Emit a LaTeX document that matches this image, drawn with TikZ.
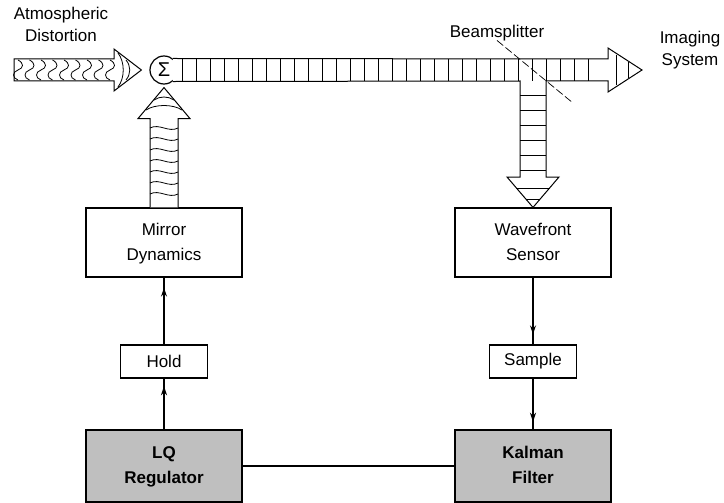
\documentclass[tikz,border=0pt]{standalone}
\usepackage{fontspec}
\setmainfont{Liberation Sans}
\usetikzlibrary{arrows.meta,calc,decorations.markings}
\tikzset{
	->-/.style={decoration={
			markings,
			mark=at position #1 with {\arrow{Stealth[length=9pt,width=6pt]}}},postaction={decorate}},
	->-/.default=0.85,
	sysbox/.style={draw, line width=1.2pt, minimum width=156pt, minimum height=69pt, font={\fontsize{17}{25}\selectfont}},
	smallbox/.style={draw, line width=1.2pt, minimum width=87pt, minimum height=33pt, font={\fontsize{17}{25}\selectfont}},
	ctrlbox/.style={sysbox, fill=black!25, minimum height=72pt, font={\fontsize{17}{25}\selectfont\bfseries}},
	beam/.style={line width=1pt, line join=miter},
	rung/.style={line width=0.8pt},
	wire/.style={line width=2pt}
}

\begin{document}
\begin{tikzpicture}[x=1pt,y=-1pt]
	\useasboundingbox (0,0) rectangle (724,503);
	% labels
	\node[font={\fontsize{17}{22}\selectfont}] (atmos) at (61,26) {\begin{tabular}{c} Atmospheric \\ Distortion \end{tabular}};
	\node[font={\fontsize{17}{22}\selectfont}] (bslabel) at (497,33) {Beamsplitter};
	\node[font={\fontsize{17}{22}\selectfont}] (imaging) at (690,50) {\begin{tabular}{c} Imaging \\ System \end{tabular}};
	
	\node[draw, circle, line width=1.2pt, minimum size=28pt, inner sep=0pt, font={\fontsize{20}{20}\selectfont}] (sum) at (164,70) {Σ};
	
	\node[sysbox] (mirror) at (164,242.5) {\begin{tabular}{c} Mirror \\ Dynamics \end{tabular}};
	\node[smallbox] (hold) at (164,361.5) {Hold};
	\node[ctrlbox] (lq) at (164,466) {\begin{tabular}{c} LQ \\ Regulator \end{tabular}};
	
	\node[sysbox] (wfs) at (533,242.5) {\begin{tabular}{c} Wavefront \\ Sensor \end{tabular}};
	\node[smallbox] (sample) at (533,361.5) {Sample};
	\node[ctrlbox] (kalman) at (533,466) {\begin{tabular}{c} Kalman \\ Filter \end{tabular}};
	
	% distorted wavefront coming in
	\draw[beam, fill=white] (14,59) -- (114,59) -- (114,49) -- ($(sum.west)+(-8,0)$) -- (114,91) -- (114,81) -- (14,81) -- cycle;
	\foreach \x in {18,29.5,...,110}
		\draw[rung] (\x,60) .. controls (\x+6,63) and (\x+6,68) .. (\x,70) .. controls (\x-6,72) and (\x-6,78) .. (\x,80);
	\draw[rung] (118,53) .. controls (125,62) and (125,78) .. (118,87);
	\draw[rung] (126,60) .. controls (131,66) and (131,74) .. (126,80);
	
	% corrected beam, split to the sensor
	\draw[beam, fill=white] (sum.52) -- (608,59) -- (608,48) -- (642,70) -- (608,92) -- (608,81) -- (546,81) -- (546,177) -- (559,177) -- (wfs.north) -- (507,177) -- (520,177) -- (520,81) -- (sum.-52);
	\foreach \x in {182,196,...,600}
		\draw[rung] (\x,59) -- (\x,81);
	\draw[rung] (616,55) -- (616,85);
	\draw[rung] (628,62) -- (628,78);
	\foreach \y in {95,110,...,170}
		\draw[rung] (520,\y) -- (546,\y);
	\draw[rung] (516,188) -- (550,188);
	\draw[rung] (526,199) -- (540,199);
	
	% mirror correction
	\draw[beam, fill=white] ($(mirror.north)+(-14,0)$) |- ($(sum.south)+(-26,34)$) -- ($(sum.south)+(0,3)$) -- ($(sum.south)+(26,34)$) -| ($(mirror.north)+(14,0)$);
	\foreach \y in {128,139,...,200}
		\draw[rung] (150,\y) .. controls (159,\y-5) and (169,\y+5) .. (178,\y);
	\draw[rung] (146,110) .. controls (155,104) and (173,104) .. (182,110);
	\draw[rung] (154,100) .. controls (160,96) and (168,96) .. (174,100);
	
	% beamsplitter
	\coordinate (bsend) at (573,103);
	\draw[line width=0.7pt, dash pattern=on 8pt off 3pt] ($(bslabel.south)+(0,-4)$) -- (bsend);
	
	% loop
	\draw[wire, ->-] (hold) -- (mirror);
	\draw[wire, ->-] (lq) -- (hold);
	\draw[wire, ->-] (wfs) -- (sample);
	\draw[wire, ->-] (sample) -- (kalman);
	\draw[wire] (lq) -- (kalman);
\end{tikzpicture}
\end{document}
